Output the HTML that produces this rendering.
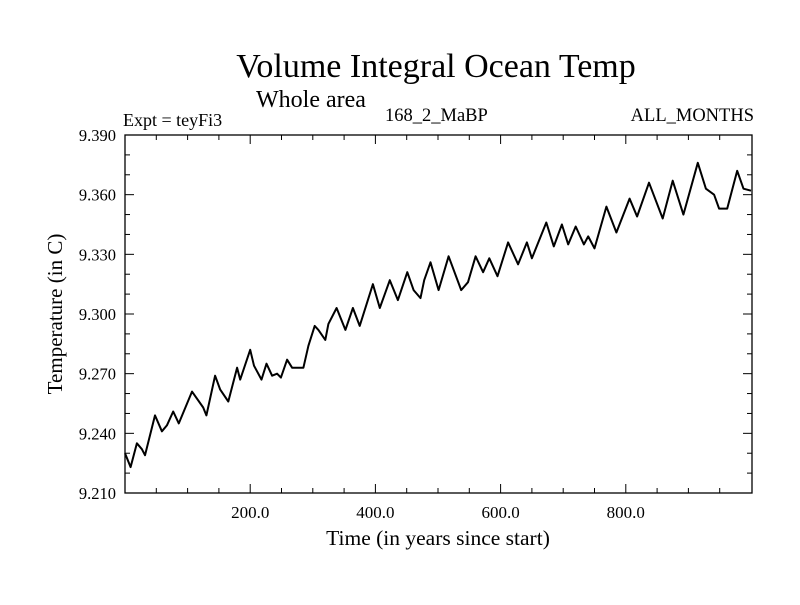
<!DOCTYPE html>
<html><head><meta charset="utf-8"><style>
body{margin:0;background:#fff}
svg text{font-family:"Liberation Serif",serif;fill:#000}
</style></head><body>
<svg id="chart" width="800" height="600" xmlns="http://www.w3.org/2000/svg">
<text x="436" y="77" font-size="34" text-anchor="middle">Volume Integral Ocean Temp</text>
<text x="256" y="107" font-size="24">Whole area</text>
<text x="123" y="126" font-size="18">Expt = teyFi3</text>
<text x="385" y="121" font-size="18.5">168_2_MaBP</text>
<text x="754" y="121" font-size="18.5" text-anchor="end">ALL_MONTHS</text>
<g id="axes"></g>
<text x="438" y="545" font-size="21.5" text-anchor="middle">Time (in years since start)</text>
<text transform="translate(62,314) rotate(-90)" font-size="21" text-anchor="middle">Temperature (in C)</text>
</svg>
<script>
const years=[0,9,19,27,32,48,59,67,77,86,107,125,130,144,152,165,179,184,200,206,218,226,235,243,249,259,267,285,293,303,309,320,325,338,352,364,375,396,407,423,436,451,461,472,478,488,501,517,537,548,560,572,582,595,612,628,642,650,673,685,698,708,720,733,740,750,769,785,806,818,837,859,875,892,915,928,941,949,962,978,988,1000];
const temps=[9.230,9.223,9.235,9.232,9.229,9.249,9.241,9.244,9.251,9.245,9.261,9.253,9.249,9.269,9.262,9.256,9.273,9.267,9.282,9.274,9.267,9.275,9.269,9.270,9.268,9.277,9.273,9.273,9.284,9.294,9.292,9.287,9.295,9.303,9.292,9.303,9.294,9.315,9.303,9.317,9.307,9.321,9.312,9.308,9.317,9.326,9.312,9.329,9.312,9.316,9.329,9.321,9.328,9.319,9.336,9.325,9.336,9.328,9.346,9.334,9.345,9.335,9.344,9.335,9.339,9.333,9.354,9.341,9.358,9.349,9.366,9.348,9.367,9.350,9.376,9.363,9.360,9.353,9.353,9.372,9.363,9.362];
const xTicks=[200,400,600,800];
const xTickLabels=["200.0","400.0","600.0","800.0"];
const yTicks=[9.210,9.240,9.270,9.300,9.330,9.360,9.390];
const yTickLabels=["9.210","9.240","9.270","9.300","9.330","9.360","9.390"];
const L=125,R=752,T=135,B=493,X0=0,X1=1001.6,Y0=9.21,Y1=9.39;
const sx=v=>L+(v-X0)/(X1-X0)*(R-L);
const sy=v=>B-(v-Y0)/(Y1-Y0)*(B-T);
const NS="http://www.w3.org/2000/svg";
const g=document.getElementById('axes');
function mk(t,a){const e=document.createElementNS(NS,t);for(const k in a)e.setAttribute(k,a[k]);return e;}
const frame=mk('rect',{x:L,y:T,width:R-L,height:B-T,fill:'none',stroke:'#000','stroke-width':1.3});


g.appendChild(frame);
for(let v=50;v<1000;v+=50){const x=sx(v);const major=v%200===0;const len=major?9:5;
 const t1=mk('line',{x1:x,y1:B,x2:x,y2:B-len,stroke:'#000','stroke-width':1});
 
 
 g.appendChild(t1);
 const t2=mk('line',{x1:x,y1:T,x2:x,y2:T+len,stroke:'#000','stroke-width':1});
 
 
 g.appendChild(t2);}
for(let i=1;i<18;i++){const v=Y0+i*0.01;const y=sy(v);const major=i%3===0;const len=major?9:5;
 const t1=mk('line',{x1:L,y1:y,x2:L+len,y2:y,stroke:'#000','stroke-width':1});
 
 
 g.appendChild(t1);
 const t2=mk('line',{x1:R,y1:y,x2:R-len,y2:y,stroke:'#000','stroke-width':1});
 
 
 g.appendChild(t2);}
xTicks.forEach((v,i)=>{const t=mk('text',{x:sx(v),y:518,'font-size':17,'text-anchor':'middle'});t.textContent=xTickLabels[i];
 
 
 g.appendChild(t);});
yTicks.forEach((v,i)=>{const t=mk('text',{x:116,y:sy(v)+6,'font-size':16.5,'text-anchor':'end'});t.textContent=yTickLabels[i];
 
 
 g.appendChild(t);});
const d=years.map((v,i)=>(i?'L':'M')+sx(Math.min(v,X1)).toFixed(1)+','+sy(temps[i]).toFixed(1)).join(' ');
const line=mk('path',{d:d,fill:'none',stroke:'#000','stroke-width':2,'stroke-linejoin':'round'});


g.appendChild(line);
</script>
</body></html>
